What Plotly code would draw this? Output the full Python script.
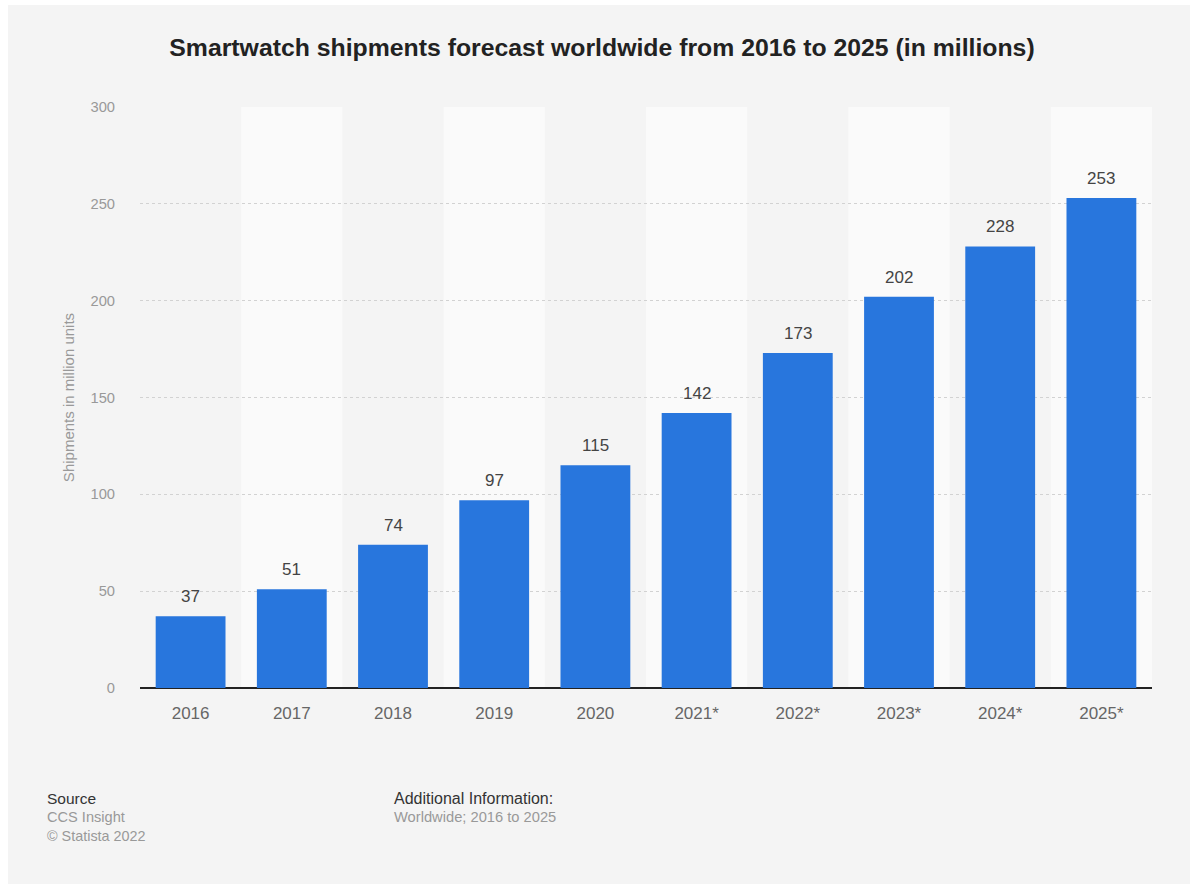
import plotly.graph_objects as go

years = ["2016", "2017", "2018", "2019", "2020", "2021*", "2022*", "2023*", "2024*", "2025*"]
shipments = [37, 51, 74, 97, 115, 142, 173, 202, 228, 253]
y_ticks = [0, 50, 100, 150, 200, 250, 300]

W, H = 1190, 884
ML, MR, MT, MB = 140, 38, 107, 196
PW = W - ML - MR
PH = H - MT - MB

FONT = "Liberation Sans, Arial, Helvetica, sans-serif"
BG = "#f4f4f4"

idx = list(range(len(years)))

fig = go.Figure(
    go.Bar(
        x=idx,
        y=shipments,
        width=0.69,
        marker=dict(color="#2876dd", line=dict(width=0)),
        hovertext=years,
        hoverinfo="text+y",
    )
)

shapes = []
# alternating light column bands behind every other category
for i in range(1, len(years), 2):
    shapes.append(dict(
        type="rect", xref="x", yref="y",
        x0=i - 0.5, x1=i + 0.5, y0=0, y1=y_ticks[-1],
        fillcolor="#fafafa", line=dict(width=0), layer="below",
    ))
# thin white frame on the top and left edge of the card
shapes.append(dict(type="rect", xref="paper", yref="paper",
                   x0=-ML / PW, x1=(8 - ML) / PW, y0=-MB / PH, y1=1 + MT / PH,
                   fillcolor="white", line=dict(width=0), layer="below"))
shapes.append(dict(type="rect", xref="paper", yref="paper",
                   x0=-ML / PW, x1=1 + MR / PW, y0=1 + (MT - 5) / PH, y1=1 + MT / PH,
                   fillcolor="white", line=dict(width=0), layer="below"))

annotations = []
for i, v in zip(idx, shipments):
    annotations.append(dict(
        x=i, y=v, xref="x", yref="y", text=str(v), showarrow=False,
        yanchor="bottom", yshift=8, font=dict(family=FONT, size=17, color="#444444"),
    ))

def foot(text, x, y, size, color):
    annotations.append(dict(
        xref="paper", yref="paper", x=(x - ML) / PW, y=1 - (y - MT) / PH,
        xanchor="left", yanchor="middle", text=text, showarrow=False,
        font=dict(family=FONT, size=size, color=color),
    ))

foot("Source", 45, 798, 15.5, "#333333")
foot("CCS Insight", 45, 817, 14.6, "#999999")
foot("© Statista 2022", 45, 836, 14.4, "#999999")
foot("Additional Information:", 392, 798, 16, "#333333")
foot("Worldwide; 2016 to 2025", 392, 817, 14.7, "#999999")

fig.update_layout(
    width=W, height=H,
    margin=dict(l=ML, r=MR, t=MT, b=MB, autoexpand=False),
    paper_bgcolor=BG, plot_bgcolor=BG,
    showlegend=False,
    title=dict(
        text="<b>Smartwatch shipments forecast worldwide from 2016 to 2025 (in millions)</b>",
        x=602 / W, xref="container", xanchor="center",
        y=1 - 47 / H, yref="container", yanchor="middle",
        font=dict(family=FONT, size=24.8, color="#222222"),
    ),
    xaxis=dict(
        type="linear", range=[-0.5, len(years) - 0.5],
        tickvals=idx, ticktext=years,
        showgrid=False, ticks="", showline=False, zeroline=False,
        tickfont=dict(family=FONT, size=17, color="#666666"),
        ticklabelstandoff=13,
    ),
    yaxis=dict(
        range=[0, 300], tickvals=y_ticks,
        showgrid=True, gridcolor="#d2d2d2", griddash="dot", gridwidth=1,
        zeroline=True, zerolinecolor="#222222", zerolinewidth=1.5,
        ticks="", showline=False,
        tickfont=dict(family=FONT, size=14.7, color="#999999"),
        ticklabelstandoff=24,
        title=dict(text="Shipments in million units", standoff=12,
                   font=dict(family=FONT, size=15, color="#999999")),
    ),
    shapes=shapes,
    annotations=annotations,
)

fig.write_html("out.html")
